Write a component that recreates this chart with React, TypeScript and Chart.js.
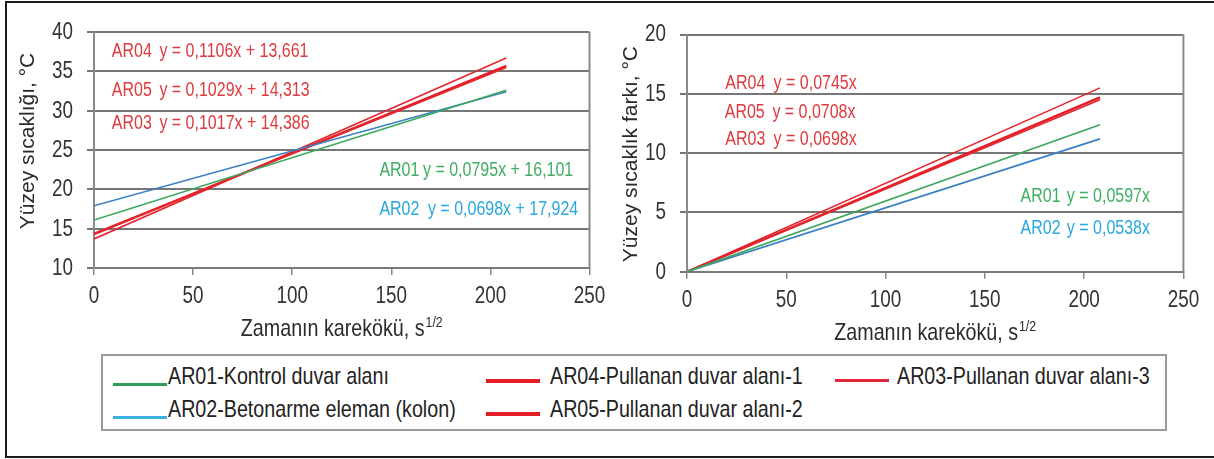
import React, { useEffect, useRef } from "react";
import { Chart, registerables } from "chart.js";

Chart.register(...registerables);

const FONT = "'Liberation Sans', Arial, sans-serif";
const NARROW_SCALE = 0.82; // emulates a narrow sans face

// ---- data ----
const seriesIds = ["AR01", "AR02", "AR03", "AR05", "AR04"];
const lineX = [0, 208];

// left chart: surface temperature (°C), values at x = 0 and x = 208
const tempAR01 = [16.1, 32.6];
const tempAR02 = [17.9, 32.4];
const tempAR03 = [14.4, 35.5];
const tempAR05 = [14.3, 35.7];
const tempAR04 = [13.7, 36.7];

// right chart: surface temperature difference (°C)
const diffAR01 = [0, 12.4];
const diffAR02 = [0, 11.2];
const diffAR03 = [0, 14.5];
const diffAR05 = [0, 14.7];
const diffAR04 = [0, 15.5];

const xTicks = { min: 0, max: 250, step: 50 };
const leftYTicks = { min: 10, max: 40, step: 5 };
const rightYTicks = { min: 0, max: 20, step: 5 };

const xTitle = "Zamanın karekökü, s";
const xTitleSup = "1/2";
const leftYTitle = "Yüzey sıcaklığı, °C";
const rightYTitle = "Yüzey sıcaklık farkı, °C";

// equation annotations (label, equation, data position)
const leftEqLabels = ["AR04", "AR05", "AR03", "AR01", "AR02"];
const leftEqTexts = ["y = 0,1106x + 13,661", "y = 0,1029x + 14,313", "y = 0,1017x + 14,386", "y = 0,0795x + 16,101", "y = 0,0698x + 17,924"];
const leftEqLabelX = [9, 9, 9, 144, 144];
const leftEqTextX = [33, 33, 33, 166, 168.5];
const leftEqY = [37.5, 32.6, 28.3, 22.4, 17.4];

const rightEqLabels = ["AR04", "AR05", "AR03", "AR01", "AR02"];
const rightEqTexts = ["y = 0,0745x", "y = 0,0708x", "y = 0,0698x", "y = 0,0597x", "y = 0,0538x"];
const rightEqLabelX = [19.3, 19, 19.3, 168, 168];
const rightEqTextX = [43.6, 43, 43.6, 191.3, 191.3];
const rightEqY = [15.9, 13.45, 11.1, 6.3, 3.65];

const legendLabels = [
  "AR01-Kontrol duvar alanı",
  "AR02-Betonarme eleman (kolon)",
  "AR04-Pullanan duvar alanı-1",
  "AR05-Pullanan duvar alanı-2",
  "AR03-Pullanan duvar alanı-3",
];

// ---- styles ----
const lineColors: Record<string, string> = {
  AR01: "#3ca65c",
  AR02: "#3a80c4",
  AR03: "#e4262e",
  AR04: "#e4262e",
  AR05: "#e21e26",
};
const lineWidths: Record<string, number> = { AR01: 1.6, AR02: 1.6, AR03: 1.6, AR04: 1.6, AR05: 2.4 };
const textColors: Record<string, string> = {
  AR01: "#3fae62",
  AR02: "#28a8de",
  AR03: "#e03a3e",
  AR04: "#e03a3e",
  AR05: "#e03a3e",
};
const legendColors = ["#2e9e5e", "#3cb0e0", "#e41e26", "#e41e26", "#e4263a"];
const legendLineWidths = [3, 3, 4, 4, 2.5];
const legendCols = [0, 0, 1, 1, 2];
const legendRows = [0, 1, 0, 1, 0];

type ChartCfg = {
  values: number[][];
  yTicks: { min: number; max: number; step: number };
  yTitle: string;
  yTitleShift: number;
  yTitleOffset: number;
  eqLabels: string[];
  eqTexts: string[];
  eqLabelX: number[];
  eqTextX: number[];
  eqY: number[];
  yWidth: number;
  xHeight: number;
  padding: { top: number; right: number; left: number; bottom: number };
};

function narrowText(
  ctx: CanvasRenderingContext2D,
  text: string,
  x: number,
  y: number,
  size: number,
  align: CanvasTextAlign,
  baseline: CanvasTextBaseline
) {
  ctx.save();
  ctx.font = `${size}px ${FONT}`;
  ctx.textAlign = align;
  ctx.textBaseline = baseline;
  ctx.translate(x, y);
  ctx.scale(NARROW_SCALE, 1);
  ctx.fillText(text, 0, 0);
  ctx.restore();
}

function narrowWidth(ctx: CanvasRenderingContext2D, text: string, size: number) {
  ctx.save();
  ctx.font = `${size}px ${FONT}`;
  const w = ctx.measureText(text).width * NARROW_SCALE;
  ctx.restore();
  return w;
}

function buildChart(canvas: HTMLCanvasElement, cfg: ChartCfg) {
  const datasets = seriesIds.map((id, i) => ({
    label: id,
    data: lineX.map((x, j) => ({ x, y: cfg.values[i][j] })),
    borderColor: lineColors[id],
    borderWidth: lineWidths[id],
    pointRadius: 0,
    fill: false,
    tension: 0,
  }));

  const textPlugin = {
    id: "texts",
    afterDraw(chart: any) {
      const { ctx, chartArea, scales } = chart;
      const xs = scales.x;
      const ys = scales.y;
      ctx.save();
      // right border of the plot area
      ctx.strokeStyle = "#8a8a8a";
      ctx.lineWidth = 2;
      ctx.beginPath();
      ctx.moveTo(chartArea.right, chartArea.top);
      ctx.lineTo(chartArea.right, chartArea.bottom);
      ctx.stroke();

      // tick labels
      ctx.fillStyle = "#333";
      xs.ticks.forEach((t: any) => {
        narrowText(ctx, String(t.value), xs.getPixelForValue(t.value), chartArea.bottom + 28.5, 23, "center", "middle");
      });
      ys.ticks.forEach((t: any) => {
        narrowText(ctx, String(t.value), chartArea.left - 21, ys.getPixelForValue(t.value) + 0.5, 23, "right", "middle");
      });

      // equation annotations
      cfg.eqLabels.forEach((lab, i) => {
        ctx.fillStyle = textColors[lab];
        const y = ys.getPixelForValue(cfg.eqY[i]);
        narrowText(ctx, lab, xs.getPixelForValue(cfg.eqLabelX[i]), y, 19.5, "left", "middle");
        narrowText(ctx, cfg.eqTexts[i], xs.getPixelForValue(cfg.eqTextX[i]), y, 19.5, "left", "middle");
      });

      // x title with superscript
      ctx.fillStyle = "#2a2a2a";
      const mainW = narrowWidth(ctx, xTitle, 24);
      const supW = narrowWidth(ctx, xTitleSup, 15);
      const cx = (chartArea.left + chartArea.right) / 2;
      const startX = cx - (mainW + supW + 1) / 2;
      const baseY = chartArea.bottom + 68;
      narrowText(ctx, xTitle, startX, baseY, 24, "left", "alphabetic");
      narrowText(ctx, xTitleSup, startX + mainW + 1, baseY - 9, 15, "left", "alphabetic");

      // y title
      ctx.fillStyle = "#2a2a2a";
      ctx.font = `21px ${FONT}`;
      ctx.textAlign = "center";
      ctx.textBaseline = "middle";
      ctx.translate(chartArea.left - cfg.yTitleOffset, (chartArea.top + chartArea.bottom) / 2 + cfg.yTitleShift);
      ctx.rotate(-Math.PI / 2);
      ctx.fillText(cfg.yTitle, 0, 0);
      ctx.restore();
    },
  };

  return new Chart(canvas, {
    type: "line",
    data: { datasets },
    plugins: [textPlugin],
    options: {
      responsive: false,
      animation: false,
      layout: { padding: cfg.padding },
      plugins: { legend: { display: false }, tooltip: { enabled: false } },
      scales: {
        x: {
          type: "linear",
          min: xTicks.min,
          max: xTicks.max,
          ticks: { display: false, stepSize: xTicks.step, autoSkip: false, maxRotation: 0 },
          grid: { display: true, drawOnChartArea: false, drawTicks: true, tickLength: 7, color: "#888", lineWidth: 1.5 },
          border: { display: true, color: "#7a7a7a", width: 2 },
          afterFit: (s: any) => {
            s.height = cfg.xHeight;
          },
        },
        y: {
          type: "linear",
          min: cfg.yTicks.min,
          max: cfg.yTicks.max,
          ticks: { display: false, stepSize: cfg.yTicks.step },
          grid: { color: "#767676", lineWidth: 2, tickLength: 7, drawTicks: true },
          border: { display: true, color: "#8a8a8a", width: 2 },
          afterFit: (s: any) => {
            s.width = cfg.yWidth;
          },
        },
      },
    } as any,
  });
}

function App() {
  const leftRef = useRef<HTMLCanvasElement>(null);
  const rightRef = useRef<HTMLCanvasElement>(null);

  useEffect(() => {
    const left = buildChart(leftRef.current!, {
      values: [tempAR01, tempAR02, tempAR03, tempAR05, tempAR04],
      yTicks: leftYTicks,
      yTitle: leftYTitle,
      yTitleShift: -9,
      yTitleOffset: 66,
      eqLabels: leftEqLabels,
      eqTexts: leftEqTexts,
      eqLabelX: leftEqLabelX,
      eqTextX: leftEqTextX,
      eqY: leftEqY,
      yWidth: 94,
      xHeight: 77,
      padding: { top: 32, right: 20.5, left: 0, bottom: 0 },
    });
    const right = buildChart(rightRef.current!, {
      values: [diffAR01, diffAR02, diffAR03, diffAR05, diffAR04],
      yTicks: rightYTicks,
      yTitle: rightYTitle,
      yTitleShift: 1,
      yTitleOffset: 56,
      eqLabels: rightEqLabels,
      eqTexts: rightEqTexts,
      eqLabelX: rightEqLabelX,
      eqTextX: rightEqTextX,
      eqY: rightEqY,
      yWidth: 97,
      xHeight: 73.3,
      padding: { top: 34.5, right: 30.6, left: 0, bottom: 0 },
    });
    return () => {
      left.destroy();
      right.destroy();
    };
  }, []);

  const colMarkerX = [12, 385, 734];
  const colTextX = [67, 449, 796];
  const rowTextY = [22, 55];

  return (
    <div style={{ position: "absolute", left: 0, top: 0, width: 1214, height: 459, overflow: "hidden", background: "#fff" }}>
      <div
        style={{
          position: "absolute",
          left: 5,
          top: 1,
          width: 1230,
          height: 457,
          border: "2px solid #1c1c1c",
          boxSizing: "border-box",
        }}
      />
      <canvas ref={leftRef} width={610} height={345} style={{ position: "absolute", left: 0, top: 0 }} />
      <canvas ref={rightRef} width={624} height={345} style={{ position: "absolute", left: 590, top: 0 }} />
      <div
        style={{
          position: "absolute",
          left: 101,
          top: 354,
          width: 1066,
          height: 77,
          border: "2px solid #9a9a9a",
          boxSizing: "border-box",
          fontFamily: FONT,
          fontSize: 24,
          color: "#222",
        }}
      >
        {legendLabels.map((lab, i) => {
          const c = legendCols[i];
          const r = legendRows[i];
          const isRed = c > 0;
          return (
            <React.Fragment key={lab}>
              <div
                style={{
                  position: "absolute",
                  left: colMarkerX[c] - 2,
                  top: rowTextY[r] - 2 + (isRed ? 3 : 7),
                  width: 54,
                  height: legendLineWidths[i],
                  background: legendColors[i],
                }}
              />
              <span
                style={{
                  position: "absolute",
                  left: colTextX[c] - 2,
                  top: rowTextY[r] - 2,
                  transform: `translateY(-50%) scaleX(${NARROW_SCALE})`,
                  transformOrigin: "0 50%",
                  whiteSpace: "nowrap",
                  lineHeight: 1,
                }}
              >
                {lab}
              </span>
            </React.Fragment>
          );
        })}
      </div>
    </div>
  );
}

export default App;
